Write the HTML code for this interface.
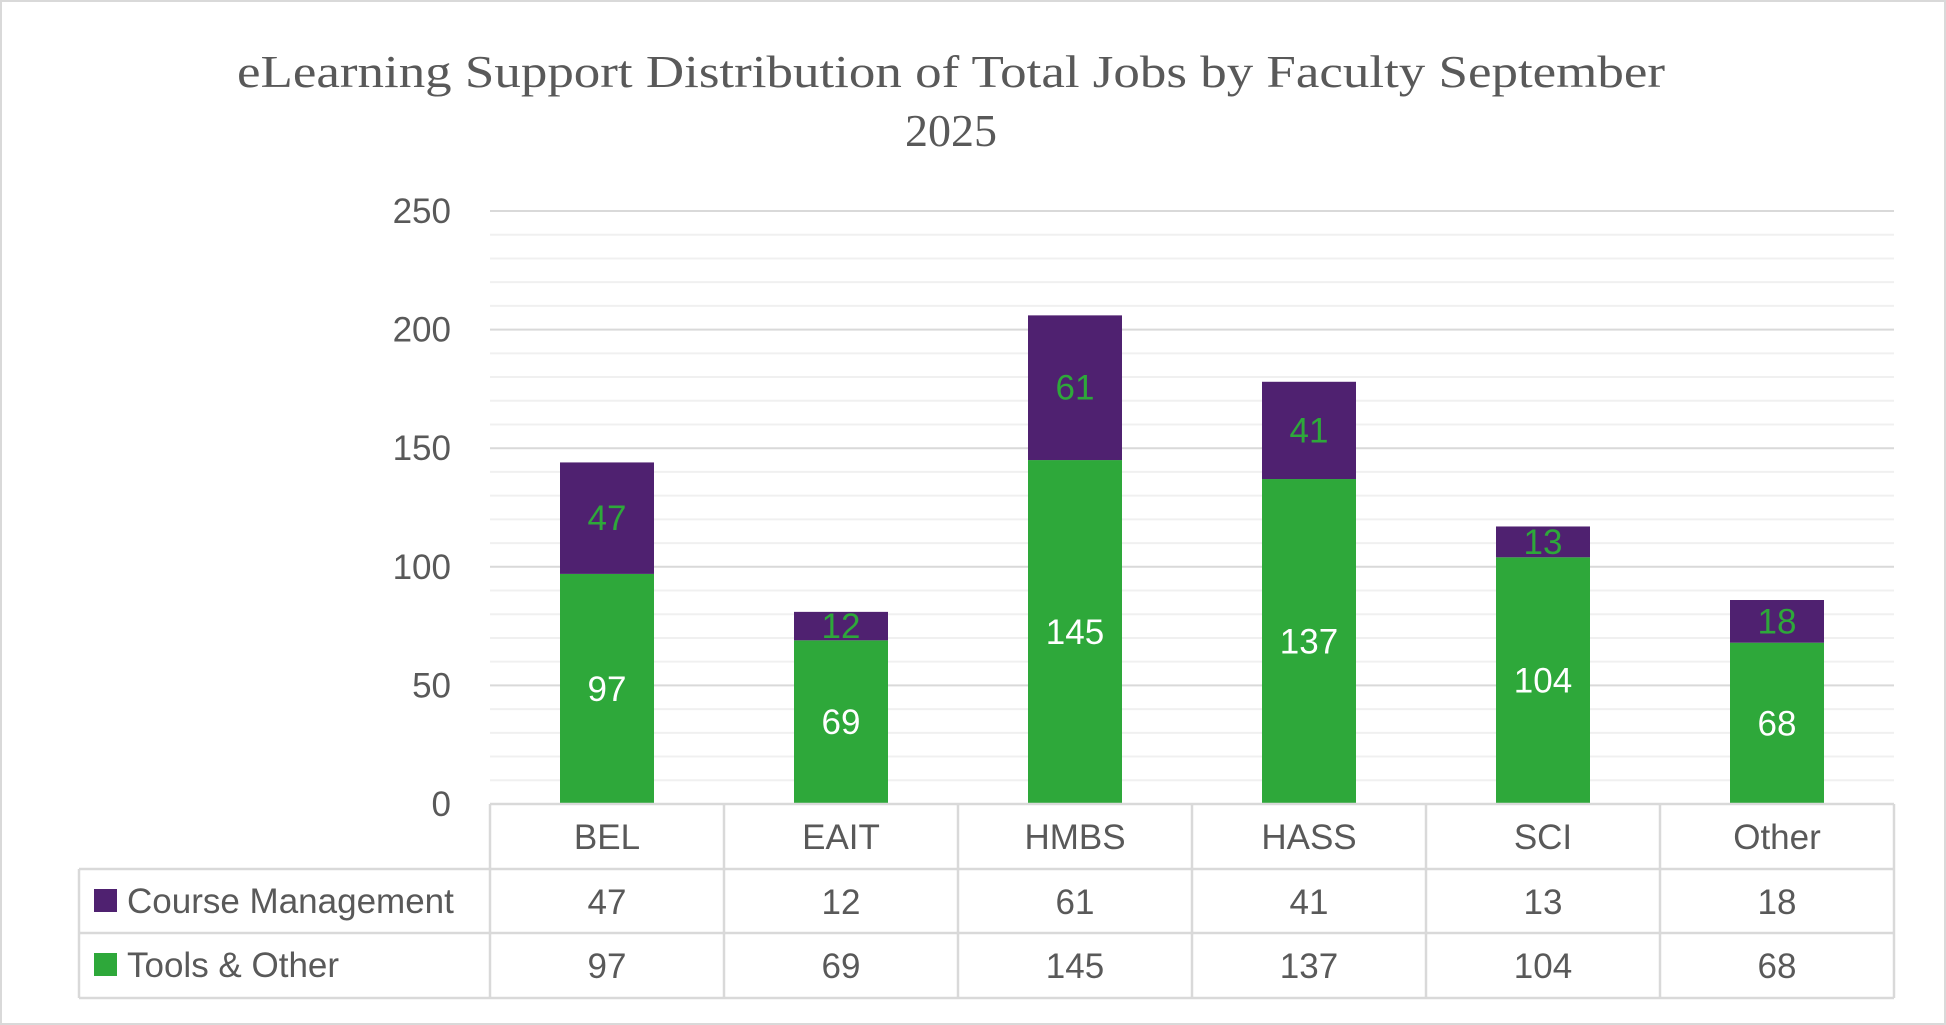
<!DOCTYPE html>
<html><head><meta charset="utf-8">
<style>
html,body{margin:0;padding:0;background:#fff;}
svg{display:block;}
text{font-family:"Liberation Sans",sans-serif;}
</style></head>
<body>
<svg id="chart" width="1946" height="1025" viewBox="0 0 1946 1025" xmlns="http://www.w3.org/2000/svg">
<rect x="1" y="1" width="1944" height="1023" fill="#fff" stroke="#d9d9d9" stroke-width="2"/>
<text x="951" y="87" text-anchor="middle" font-size="46" fill="#595959" textLength="1428" lengthAdjust="spacingAndGlyphs" style="font-family:'Liberation Serif',serif">eLearning Support Distribution of Total Jobs by Faculty September</text>
<text x="951" y="146" text-anchor="middle" font-size="46" fill="#595959" style="font-family:'Liberation Serif',serif">2025</text>
<g id="grid"></g>
<g id="bars"></g>
<g id="table"></g>
</svg>
<script>
const categories = ["BEL","EAIT","HMBS","HASS","SCI","Other"];
const courseMgmt = [47,12,61,41,13,18];
const toolsOther = [97,69,145,137,104,68];
const yTicks = [0,50,100,150,200,250];
const seriesNames = ["Course Management","Tools & Other"];

const NS="http://www.w3.org/2000/svg";
const plotL=490, plotR=1894, yTop=211, yBase=804, yMax=250;
const bw=(plotR-plotL)/categories.length, barW=94;
const purple="#4f2170", green="#2ea83a";
const FS=35, OFF=12;
function y(v){return yBase-(v/yMax)*(yBase-yTop);}
function xc(i){return plotL+bw*(i+0.5);}
function mk(tag,attrs,parent,txt){const e=document.createElementNS(NS,tag);for(const k in attrs)e.setAttribute(k,attrs[k]);if(txt!==undefined)e.textContent=txt;parent.appendChild(e);return e;}

const grid=document.getElementById('grid');
for(let v=10;v<yMax;v+=10){ if(v%50===0)continue;
  const l=mk('line',{x1:plotL,x2:plotR,y1:y(v),y2:y(v),stroke:'#f0f0f0','stroke-width':2},grid);
  
  
}
yTicks.forEach(t=>{
  if(t>0){const l=mk('line',{x1:plotL,x2:plotR,y1:y(t),y2:y(t),stroke:'#d9d9d9','stroke-width':2},grid);
  
  }
  const tx=mk('text',{x:451,y:y(t)+OFF,'text-anchor':'end','font-size':FS,fill:'#595959'},grid,String(t));
  
  
});

const bars=document.getElementById('bars');
categories.forEach((c,i)=>{
  const x=xc(i)-barW/2;
  const g=mk('rect',{x:x,y:y(toolsOther[i]),width:barW,height:yBase-y(toolsOther[i]),fill:green},bars);
  
  
  const top=toolsOther[i]+courseMgmt[i];
  const p=mk('rect',{x:x,y:y(top),width:barW,height:y(toolsOther[i])-y(top),fill:purple},bars);
  
  
  const l1=mk('text',{x:xc(i),y:(y(toolsOther[i])+yBase)/2+OFF,'text-anchor':'middle','font-size':FS,fill:'#fff'},bars,String(toolsOther[i]));
  
  
  const l2=mk('text',{x:xc(i),y:(y(top)+y(toolsOther[i]))/2+OFF,'text-anchor':'middle','font-size':FS,fill:green},bars,String(courseMgmt[i]));
  
  
});

const tb=document.getElementById('table');
const rows=[804,869,933,998], legL=79;
const lc='#d9d9d9';
function ln(x1,y1,x2,y2){const l=mk('line',{x1,y1,x2,y2,stroke:lc,'stroke-width':2.5},tb);
  
  }
ln(plotL,rows[0],plotR,rows[0]);
ln(legL,rows[1],plotR,rows[1]);ln(legL,rows[2],plotR,rows[2]);ln(legL,rows[3],plotR,rows[3]);
ln(legL,rows[1],legL,rows[3]);
for(let i=0;i<=categories.length;i++){ln(plotL+bw*i,rows[0],plotL+bw*i,rows[3]);}
categories.forEach((c,i)=>{
  const t=mk('text',{x:xc(i),y:rows[0]+45,'text-anchor':'middle','font-size':FS,fill:'#595959'},tb,c);
  
  
  const a=mk('text',{x:xc(i),y:rows[1]+45,'text-anchor':'middle','font-size':FS,fill:'#595959'},tb,String(courseMgmt[i]));
  
  
  const b=mk('text',{x:xc(i),y:rows[2]+45,'text-anchor':'middle','font-size':FS,fill:'#595959'},tb,String(toolsOther[i]));
  
  
});
[purple,green].forEach((col,k)=>{
  const s=mk('rect',{x:94,y:rows[k+1]+20,width:23,height:23,fill:col},tb);
  
  
  const t=mk('text',{x:127,y:rows[k+1]+44,'font-size':FS,fill:'#595959'},tb,seriesNames[k]);
  
  
});
</script>
</body></html>
